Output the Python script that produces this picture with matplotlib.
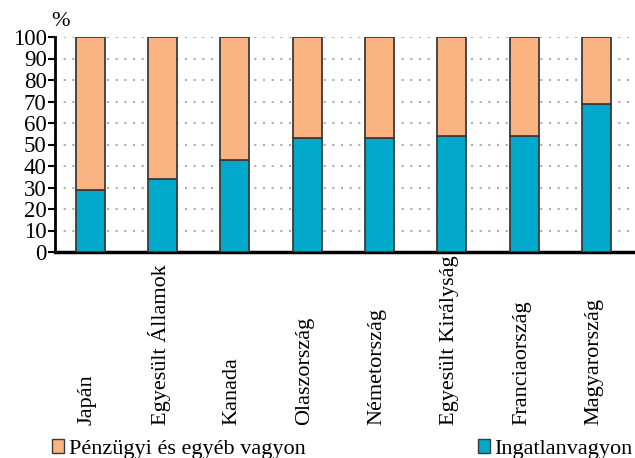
import matplotlib.pyplot as plt
import numpy as np
from matplotlib.patches import Patch

countries = ["Japán", "Egyesült Államok", "Kanada", "Olaszország",
             "Németország", "Egyesült Királyság", "Franciaország", "Magyarország"]
ingatlan = [29, 34, 43, 53, 53, 54, 54, 69]
penzugyi = [100 - v for v in ingatlan]

blue = "#00a9c9"
orange = "#fbb381"
edge = "#3a3a3a"

plt.rcParams['font.family'] = ['Liberation Serif', 'DejaVu Serif']

fig = plt.figure(figsize=(6.35, 4.58), dpi=100)
ax = fig.add_axes([55 / 635, 206 / 458, 580 / 635, 215 / 458])

x = np.arange(len(countries))
ax.bar(x, ingatlan, width=0.4, color=blue, edgecolor=edge, linewidth=1.3, zorder=3)
ax.bar(x, penzugyi, width=0.4, bottom=ingatlan, color=orange, edgecolor=edge,
       linewidth=1.3, zorder=3)

ax.set_xlim(-0.486, 7.53)
ax.set_ylim(0, 100)
ax.set_yticks(np.arange(0, 101, 10))
ax.tick_params(axis='y', labelsize=16.5, length=5, width=1.5, direction='out', pad=1)
ax.set_xticks([])
ax.yaxis.grid(True, linestyle=(0, (1.2, 4)), color="#999999", linewidth=1.2, zorder=0)

for side in ["top", "right"]:
    ax.spines[side].set_visible(False)
ax.spines["left"].set_linewidth(2)
ax.spines["bottom"].set_linewidth(2.5)

for i, name in enumerate(countries):
    ax.text(i - 0.04, -173 / 215, name, rotation=90, rotation_mode='anchor',
            ha='left', va='center', fontsize=16,
            transform=ax.get_xaxis_transform())

ax.text(-0.54, 1.07, "%", transform=ax.get_xaxis_transform(),
        fontsize=16, ha='left', va='center')

leg1 = fig.legend([Patch(facecolor=orange, edgecolor=edge, linewidth=1)],
                  ["Pénzügyi és egyéb vagyon"],
                  loc='center left', bbox_to_anchor=(52 / 635, 1 - 449 / 458),
                  frameon=False, fontsize=16, handlelength=0.55, handleheight=0.55,
                  handletextpad=0.2, borderpad=0, borderaxespad=0)
leg2 = fig.legend([Patch(facecolor=blue, edgecolor=edge, linewidth=1)],
                  ["Ingatlanvagyon"],
                  loc='center left', bbox_to_anchor=(478 / 635, 1 - 449 / 458),
                  frameon=False, fontsize=16, handlelength=0.55, handleheight=0.55,
                  handletextpad=0.2, borderpad=0, borderaxespad=0)

fig.savefig("out.png", dpi=100)
